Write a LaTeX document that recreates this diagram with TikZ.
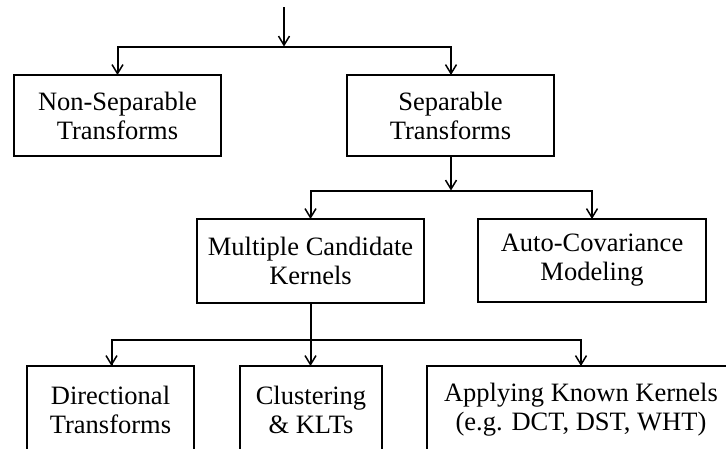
\documentclass[tikz,border=0pt]{standalone}
\usepackage{fontspec}
\setmainfont{Liberation Serif}
\usetikzlibrary{arrows.meta}
\begin{document}
\begin{tikzpicture}[x=1pt,y=-1pt,
  box/.style={draw, line width=2pt, inner sep=0pt, outer sep=0pt, align=center,
    font=\fontsize{26.5}{29}\selectfont},
  conn/.style={line width=2pt},
  arr/.style={conn, -{Straight Barb[length=9pt,width=11pt,line width=1.5pt]}}]
\clip (0,0) rectangle (726,448);
\fill[white] (0,0) rectangle (726,448);
\node[box, minimum width=207pt, minimum height=81pt] (ns) at (117.5,115.5) {Non-Separable\\Transforms};
\node[box, minimum width=207pt, minimum height=81pt] (sep) at (450.5,115.5) {Separable\\Transforms};
\node[box, minimum width=227pt, minimum height=84pt] (mck) at (310.5,261) {Multiple Candidate\\Kernels};
\node[box, minimum width=228pt, minimum height=83pt] (acm) at (592,260.5) {Auto-Covariance\\Modeling};
\node[box, minimum width=167pt, minimum height=88pt] (dir) at (110.5,410) {Directional\\Transforms};
\node[box, minimum width=142pt, minimum height=88pt] (clu) at (311,410) {Clustering\\\& KLTs};
\node[box, minimum width=308pt, minimum height=88pt] (app) at (581,410) {Applying Known Kernels\\(e.g. DCT, DST, WHT)};
\coordinate (top) at (284,7);
\coordinate (j1) at (284,46.5);
\coordinate (j2) at (451,190.5);
\coordinate (j3) at (310.5,340);
\draw[arr] (top) -- (j1);
\draw[arr] (j1) -| (ns.north);
\draw[arr] (j1) -| ([xshift=0.5pt]sep.north);
\draw[arr] ([xshift=0.5pt]sep.south) -- (j2);
\draw[arr] (j2) -| (mck.north);
\draw[arr] (j2) -| (acm.north);
\draw[arr] (mck.south) -- (mck.south |- clu.north);
\draw[conn] (j3) -| ([xshift=1pt]dir.north);
\draw[arr] ([xshift=1pt]dir.north |- j3) -- ([xshift=1pt]dir.north);
\draw[arr] (j3) -| (app.north);
\end{tikzpicture}
\end{document}
